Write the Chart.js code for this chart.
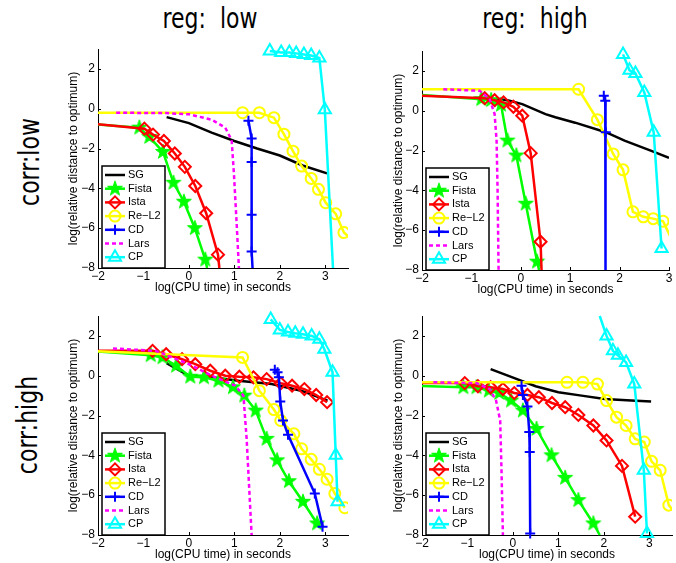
<!DOCTYPE html>
<html>
<head>
<meta charset="utf-8">
<script src="https://cdn.jsdelivr.net/npm/chart.js@4.4.1/dist/chart.umd.min.js"></script>
<style>
  html, body { margin:0; padding:0; background:#fff; width:676px; height:563px; overflow:hidden; }
  canvas { position:absolute; }
  .lbl { position:absolute; font-family:"DejaVu Sans", sans-serif; font-size:22px; line-height:22px;
         width:200px; text-align:center; white-space:pre; color:#000; }
</style>
</head>
<body>
<div class="lbl" style="left:110px;top:8px;transform:scaleY(1.3)">reg:  low</div>
<div class="lbl" style="left:435px;top:8px;transform:scaleY(1.3)">reg:  high</div>
<div class="lbl" style="left:-70px;top:151px;transform:rotate(-90deg) scaleY(1.3)">corr:low</div>
<div class="lbl" style="left:-72px;top:414px;transform:rotate(-90deg) scaleY(1.3)">corr:high</div>
<canvas id="cA" width="291" height="255" style="left:66px;top:40px"></canvas>
<canvas id="cB" width="287" height="255" style="left:391px;top:42px"></canvas>
<canvas id="cC" width="291" height="255" style="left:66px;top:307px"></canvas>
<canvas id="cD" width="290" height="255" style="left:391px;top:307px"></canvas>
<script>
// ---------- data ----------
const seriesNames = ['SG', 'Fista', 'Ista', 'Re\u2212L2', 'CD', 'Lars', 'CP'];
const xTicks = [-2, -1, 0, 1, 2, 3];
const yTicks = [-8, -6, -4, -2, 0, 2];
const xLimits = [[-2, 3.5], [-2, 3], [-2, 3.5], [-2, 3.5]];
const yLimits = [-8, 3];
const xTitle = 'log(CPU time) in seconds';
const yTitle = 'log(relative distance to optimum)';

// Panel A: corr low, reg low
const A_SG_x = [-0.49, 0, 0.5, 1.0, 1.5, 2.0, 2.5, 3.04];
const A_SG_y = [-0.42, -0.72, -1.2, -1.62, -2.0, -2.35, -2.85, -3.25];
const A_Fista_x = [-2.5, -1.09, -0.87, -0.57, -0.34, -0.11, 0.13, 0.36, 0.40];
const A_Fista_y = [-0.7, -0.95, -1.42, -2.17, -3.72, -4.67, -6.0, -7.58, -8];
const A_Ista_x = [-2.5, -0.98, -0.79, -0.55, -0.31, -0.09, 0.14, 0.38, 0.64, 0.67];
const A_Ista_y = [-0.68, -1.0, -1.3, -1.62, -2.25, -2.92, -3.88, -5.25, -7.33, -8];
const A_ReL2_x = [-2.5, 1.18, 1.55, 1.87, 2.09, 2.29, 2.48, 2.69, 2.85, 3.01, 3.23, 3.41, 3.7];
const A_ReL2_y = [-0.2, -0.2, -0.2, -0.45, -1.28, -2.13, -2.88, -3.5, -4.05, -4.72, -5.28, -6.22, -6.8];
const A_CD_x = [1.31, 1.38, 1.38, 1.38, 1.38, 1.40];
const A_CD_y = [-0.6, -1.5, -2.67, -5.33, -7.17, -8];
const A_Lars_x = [-1.6, -0.5, 0, 0.5, 0.8, 0.94, 0.99, 1.05, 1.10];
const A_Lars_y = [-0.2, -0.22, -0.28, -0.55, -0.95, -1.58, -3.25, -5.75, -8];
const A_CP_x = [1.78, 2.03, 2.21, 2.36, 2.53, 2.69, 2.87, 2.99, 3.17];
const A_CP_y = [2.9, 2.83, 2.82, 2.78, 2.72, 2.67, 2.55, -0.05, -8];

// Panel B: corr low, reg high
const B_SG_x = [-0.5, -0.23, 0.03, 0.5, 0.7, 1.1, 1.72, 2.1, 2.63, 3.0];
const B_SG_y = [0.62, 0.5, 0.33, -0.17, -0.33, -0.6, -1.08, -1.5, -2.0, -2.37];
const B_Fista_x = [-2.5, -0.8, -0.6, -0.4, -0.27, -0.09, 0.1, 0.33, 0.37];
const B_Fista_y = [0.88, 0.58, 0.53, 0.3, -1.5, -2.25, -4.67, -7.58, -8];
const B_Ista_x = [-2.5, -0.73, -0.53, -0.35, -0.15, 0.03, 0.2, 0.4, 0.42];
const B_Ista_y = [0.8, 0.63, 0.53, 0.42, 0.2, -0.25, -2.13, -6.58, -8];
const B_ReL2_x = [-2.5, 1.17, 1.55, 1.87, 2.07, 2.27, 2.48, 2.68, 2.88, 3.1];
const B_ReL2_y = [1.08, 1.08, -0.45, -2.17, -2.97, -5.08, -5.33, -5.42, -5.55, -6.7];
const B_CD_x = [1.68, 1.71, 1.72, 1.71];
const B_CD_y = [0.75, 0.5, -1.08, -8];
const B_Lars_x = [-1.57, -0.83, -0.63, -0.53, -0.49, -0.47, -0.45];
const B_Lars_y = [1.08, 1.0, 0.58, -0.17, -1.5, -4.0, -8];
const B_CP_x = [2.07, 2.2, 2.32, 2.5, 2.69, 2.85];
const B_CP_y = [2.83, 2.03, 1.87, 0.92, -1.08, -6.92];

// Panel C: corr high, reg low
const C_SG_x = [-0.49, 0, 0.51, 1.09, 1.82, 2.47, 3.05];
const C_SG_y = [0.63, 0, -0.08, -0.25, -0.42, -0.75, -1.25];
const C_Fista_x = [-2.5, -0.84, -0.58, -0.28, 0.03, 0.33, 0.65, 0.97, 1.22, 1.47, 1.71, 1.94, 2.2, 2.51, 2.82];
const C_Fista_y = [1.3, 1.03, 0.92, 0.5, -0.05, -0.08, -0.25, -0.58, -1.0, -1.75, -3.17, -4.25, -5.3, -6.33, -7.42];
const C_Ista_x = [-2.5, -0.8, -0.5, -0.15, 0.14, 0.47, 0.8, 1.11, 1.42, 1.71, 2.02, 2.27, 2.54, 2.8, 3.04];
const C_Ista_y = [1.25, 1.25, 1.08, 0.83, 0.58, 0.25, 0, -0.05, -0.08, -0.17, -0.38, -0.5, -0.67, -0.97, -1.33];
const C_ReL2_x = [-2.5, 1.18, 1.55, 1.87, 2.02, 2.31, 2.48, 2.69, 2.87, 3.04, 3.21, 3.43];
const C_ReL2_y = [1.28, 0.92, -0.75, -1.7, -2.25, -2.92, -3.67, -4.2, -4.7, -5.2, -5.92, -6.63];
const C_CD_x = [1.89, 1.95, 1.98, 2.01, 2.07, 2.18, 2.77, 2.94];
const C_CD_y = [0.3, 0.17, -0.08, -1.3, -2.25, -2.97, -5.92, -7.58];
const C_Lars_x = [-1.67, -0.73, 0, 0.58, 1.02, 1.2, 1.27, 1.38];
const C_Lars_y = [1.37, 1.25, 0.58, -0.08, -0.5, -1.0, -3.17, -8];
const C_CP_x = [1.8, 2.0, 2.18, 2.34, 2.51, 2.7, 2.87, 2.98, 3.16, 3.23, 3.27];
const C_CP_y = [2.83, 2.3, 2.2, 2.13, 2.08, 2.0, 1.83, 1.33, 0.17, -4.0, -6.33];

// Panel D: corr high, reg high
const D_SG_x = [-0.49, -0.01, 0.5, 1.0, 1.51, 2.02, 2.6, 3.04];
const D_SG_y = [0.33, -0.08, -0.53, -0.83, -1.0, -1.17, -1.25, -1.3];
const D_Fista_x = [-2.5, -1.09, -0.8, -0.53, -0.3, -0.04, 0.22, 0.52, 0.85, 1.15, 1.44, 1.77, 1.91];
const D_Fista_y = [-0.48, -0.58, -0.58, -0.75, -0.87, -1.25, -1.75, -2.67, -4.0, -5.13, -6.25, -7.42, -8];
const D_Ista_x = [-2.5, -1.06, -0.77, -0.49, -0.22, 0.03, 0.32, 0.57, 0.86, 1.15, 1.44, 1.77, 2.06, 2.4, 2.69];
const D_Ista_y = [-0.37, -0.37, -0.53, -0.58, -0.67, -0.87, -0.97, -1.08, -1.37, -1.58, -1.97, -2.5, -3.25, -4.53, -7.08];
const D_ReL2_x = [-2.5, 1.19, 1.54, 1.86, 2.06, 2.28, 2.49, 2.69, 2.89, 3.05, 3.24, 3.43, 3.6];
const D_ReL2_y = [-0.33, -0.33, -0.33, -0.42, -1.25, -2.08, -2.5, -3.17, -3.33, -4.3, -4.75, -6.5, -7.0];
const D_CD_x = [0.19, 0.22, 0.32, 0.36, 0.37, 0.38];
const D_CD_y = [-0.5, -0.97, -1.55, -2.83, -3.83, -7.92];
const D_Lars_x = [-1.75, -0.8, -0.51, -0.37, -0.28, -0.25, -0.22];
const D_Lars_y = [-0.33, -0.37, -0.67, -1.25, -2.25, -4.83, -8];
const D_CP_x = [1.91, 2.06, 2.2, 2.31, 2.49, 2.67, 2.88, 2.95];
const D_CP_y = [3.0, 2.0, 1.25, 1.03, 0.67, -0.42, -4.75, -7.92];

// ---------- styles ----------
const starImg = (() => {
  const c = document.createElement('canvas'); c.width = 18; c.height = 18;
  const g = c.getContext('2d'); g.beginPath();
  for (let i = 0; i < 10; i++) {
    const r = i % 2 === 0 ? 7.8 : 3.1, a = -Math.PI / 2 + i * Math.PI / 5;
    g.lineTo(9 + r * Math.cos(a), 9 + r * Math.sin(a));
  }
  g.closePath(); g.fillStyle = '#00ff00'; g.fill();
  g.strokeStyle = '#00ff00'; g.lineWidth = 1; g.stroke();
  return c;
})();
const styles = [
  { color: '#000000', point: null },
  { color: '#00ff00', point: starImg, r: 7 },
  { color: '#ff0000', point: 'rectRot', r: 6 },
  { color: '#ffff00', point: 'circle', r: 5.5 },
  { color: '#0000ff', point: 'cross', r: 5 },
  { color: '#ff00ff', point: null, dash: [4, 3] },
  { color: '#00ffff', point: 'triangle', r: 7 }
];
const layoutCfg = [
  { id: 'cA', yw: 32 }, { id: 'cB', yw: 31 }, { id: 'cC', yw: 32 }, { id: 'cD', yw: 31 }
];
const panelSeries = [
  [[A_SG_x, A_SG_y], [A_Fista_x, A_Fista_y], [A_Ista_x, A_Ista_y], [A_ReL2_x, A_ReL2_y], [A_CD_x, A_CD_y], [A_Lars_x, A_Lars_y], [A_CP_x, A_CP_y]],
  [[B_SG_x, B_SG_y], [B_Fista_x, B_Fista_y], [B_Ista_x, B_Ista_y], [B_ReL2_x, B_ReL2_y], [B_CD_x, B_CD_y], [B_Lars_x, B_Lars_y], [B_CP_x, B_CP_y]],
  [[C_SG_x, C_SG_y], [C_Fista_x, C_Fista_y], [C_Ista_x, C_Ista_y], [C_ReL2_x, C_ReL2_y], [C_CD_x, C_CD_y], [C_Lars_x, C_Lars_y], [C_CP_x, C_CP_y]],
  [[D_SG_x, D_SG_y], [D_Fista_x, D_Fista_y], [D_Ista_x, D_Ista_y], [D_ReL2_x, D_ReL2_y], [D_CD_x, D_CD_y], [D_Lars_x, D_Lars_y], [D_CP_x, D_CP_y]]
];

Chart.defaults.font.family = '"Liberation Sans", Arial, sans-serif';
Chart.defaults.font.size = 12;
Chart.defaults.color = '#000';

const fmt = v => (v < 0 ? '\u2212' + Math.abs(v) : String(v));

const tickPlugin = {
  id: 'inwardTicks',
  afterDatasetsDraw(chart) {
    const { ctx, chartArea: a, scales: { x, y } } = chart;
    ctx.save();
    ctx.strokeStyle = '#000'; ctx.lineWidth = 1; ctx.beginPath();
    xTicks.forEach(v => { const p = Math.round(x.getPixelForValue(v)) + 0.5; ctx.moveTo(p, a.bottom); ctx.lineTo(p, a.bottom - 3); });
    yTicks.forEach(v => { const p = Math.round(y.getPixelForValue(v)) + 0.5; ctx.moveTo(a.left, p); ctx.lineTo(a.left + 3, p); });
    ctx.stroke(); ctx.restore();
  }
};

function drawMarker(ctx, s, x, y) {
  if (Chart.helpers && Chart.helpers.drawPoint) {
    Chart.helpers.drawPoint(ctx, { pointStyle: s.point, radius: s.r, rotation: 0, borderWidth: 2 }, x, y);
  }
}

const legendPlugin = {
  id: 'mlegend',
  afterDraw(chart) {
    const { ctx, chartArea: a } = chart;
    const w = 63, h = 102, x0 = a.left + 4, y0 = a.bottom - h;
    ctx.save();
    ctx.fillStyle = '#fff'; ctx.fillRect(x0, y0, w, h);
    ctx.strokeStyle = '#000'; ctx.lineWidth = 1.5; ctx.strokeRect(x0, y0, w, h);
    chart.data.datasets.forEach((ds, i) => {
      const s = styles[i], yc = y0 + 9 + i * 13.7;
      ctx.beginPath(); ctx.setLineDash(s.dash || []);
      ctx.strokeStyle = s.color; ctx.lineWidth = 2.5;
      ctx.moveTo(x0 + 3, yc); ctx.lineTo(x0 + 23, yc); ctx.stroke();
      ctx.setLineDash([]);
      if (s.point) {
        ctx.strokeStyle = s.color; ctx.fillStyle = 'rgba(0,0,0,0)'; ctx.lineWidth = 2;
        drawMarker(ctx, s, x0 + 13, yc);
      }
      ctx.fillStyle = '#000'; ctx.font = '11px "Liberation Sans", Arial, sans-serif';
      ctx.textBaseline = 'middle'; ctx.textAlign = 'left';
      ctx.fillText(ds.label, x0 + 26, yc);
    });
    ctx.restore();
  }
};

layoutCfg.forEach((cfg, p) => {
  const [xmin, xmax] = xLimits[p];
  const [ymin, ymax] = yLimits;
  const inside = pt => pt && pt.x > xmin && pt.x < xmax && pt.y > ymin && pt.y < ymax;
  const datasets = panelSeries[p].map(([xs, ys], i) => {
    const s = styles[i];
    return {
      label: seriesNames[i],
      data: xs.map((xv, k) => ({ x: xv, y: ys[k] })),
      borderColor: s.color, backgroundColor: s.color,
      borderWidth: 2.5, borderDash: s.dash || [],
      pointStyle: s.point || 'circle',
      pointRadius: c => (s.point && inside(c.raw)) ? s.r : 0,
      pointBorderColor: s.color, pointBackgroundColor: 'rgba(0,0,0,0)',
      pointBorderWidth: 2, tension: 0, fill: false,
      clip: { left: 0, right: 0, top: 7, bottom: 7 },
      order: 6 - i
    };
  });
  new Chart(document.getElementById(cfg.id), {
    type: 'line',
    data: { datasets },
    plugins: [tickPlugin, legendPlugin],
    options: {
      responsive: false, animation: false, events: [],
      layout: { padding: { left: 0, top: 8, right: 6, bottom: 0 } },
      plugins: { legend: { display: false }, tooltip: { enabled: false } },
      scales: {
        x: {
          type: 'linear', min: xmin, max: xmax,
          afterBuildTicks: sc => { sc.ticks = xTicks.map(v => ({ value: v })); },
          afterFit: sc => { sc.height = 27; sc.paddingLeft = 0; sc.paddingRight = 0; },
          ticks: { callback: fmt, padding: 1, maxRotation: 0, autoSkip: false, color: '#000', font: { size: 12 } },
          grid: { drawOnChartArea: false, drawTicks: false },
          border: { display: true, color: '#000', width: 1 },
          title: { display: true, text: xTitle, color: '#000', font: { size: 12 }, padding: { top: 0, bottom: 0 } }
        },
        y: {
          type: 'linear', min: ymin, max: ymax,
          afterBuildTicks: sc => { sc.ticks = yTicks.map(v => ({ value: v })); },
          afterFit: sc => { sc.width = cfg.yw; sc.paddingTop = 0; sc.paddingBottom = 0; },
          ticks: { callback: fmt, padding: 3, autoSkip: false, color: '#000', font: { size: 12 } },
          grid: { drawOnChartArea: false, drawTicks: false },
          border: { display: true, color: '#000', width: 1 },
          title: { display: true, text: yTitle, color: '#000', font: { size: 12 }, padding: { top: 0, bottom: 0 } }
        }
      }
    }
  });
});
</script>
</body>
</html>
